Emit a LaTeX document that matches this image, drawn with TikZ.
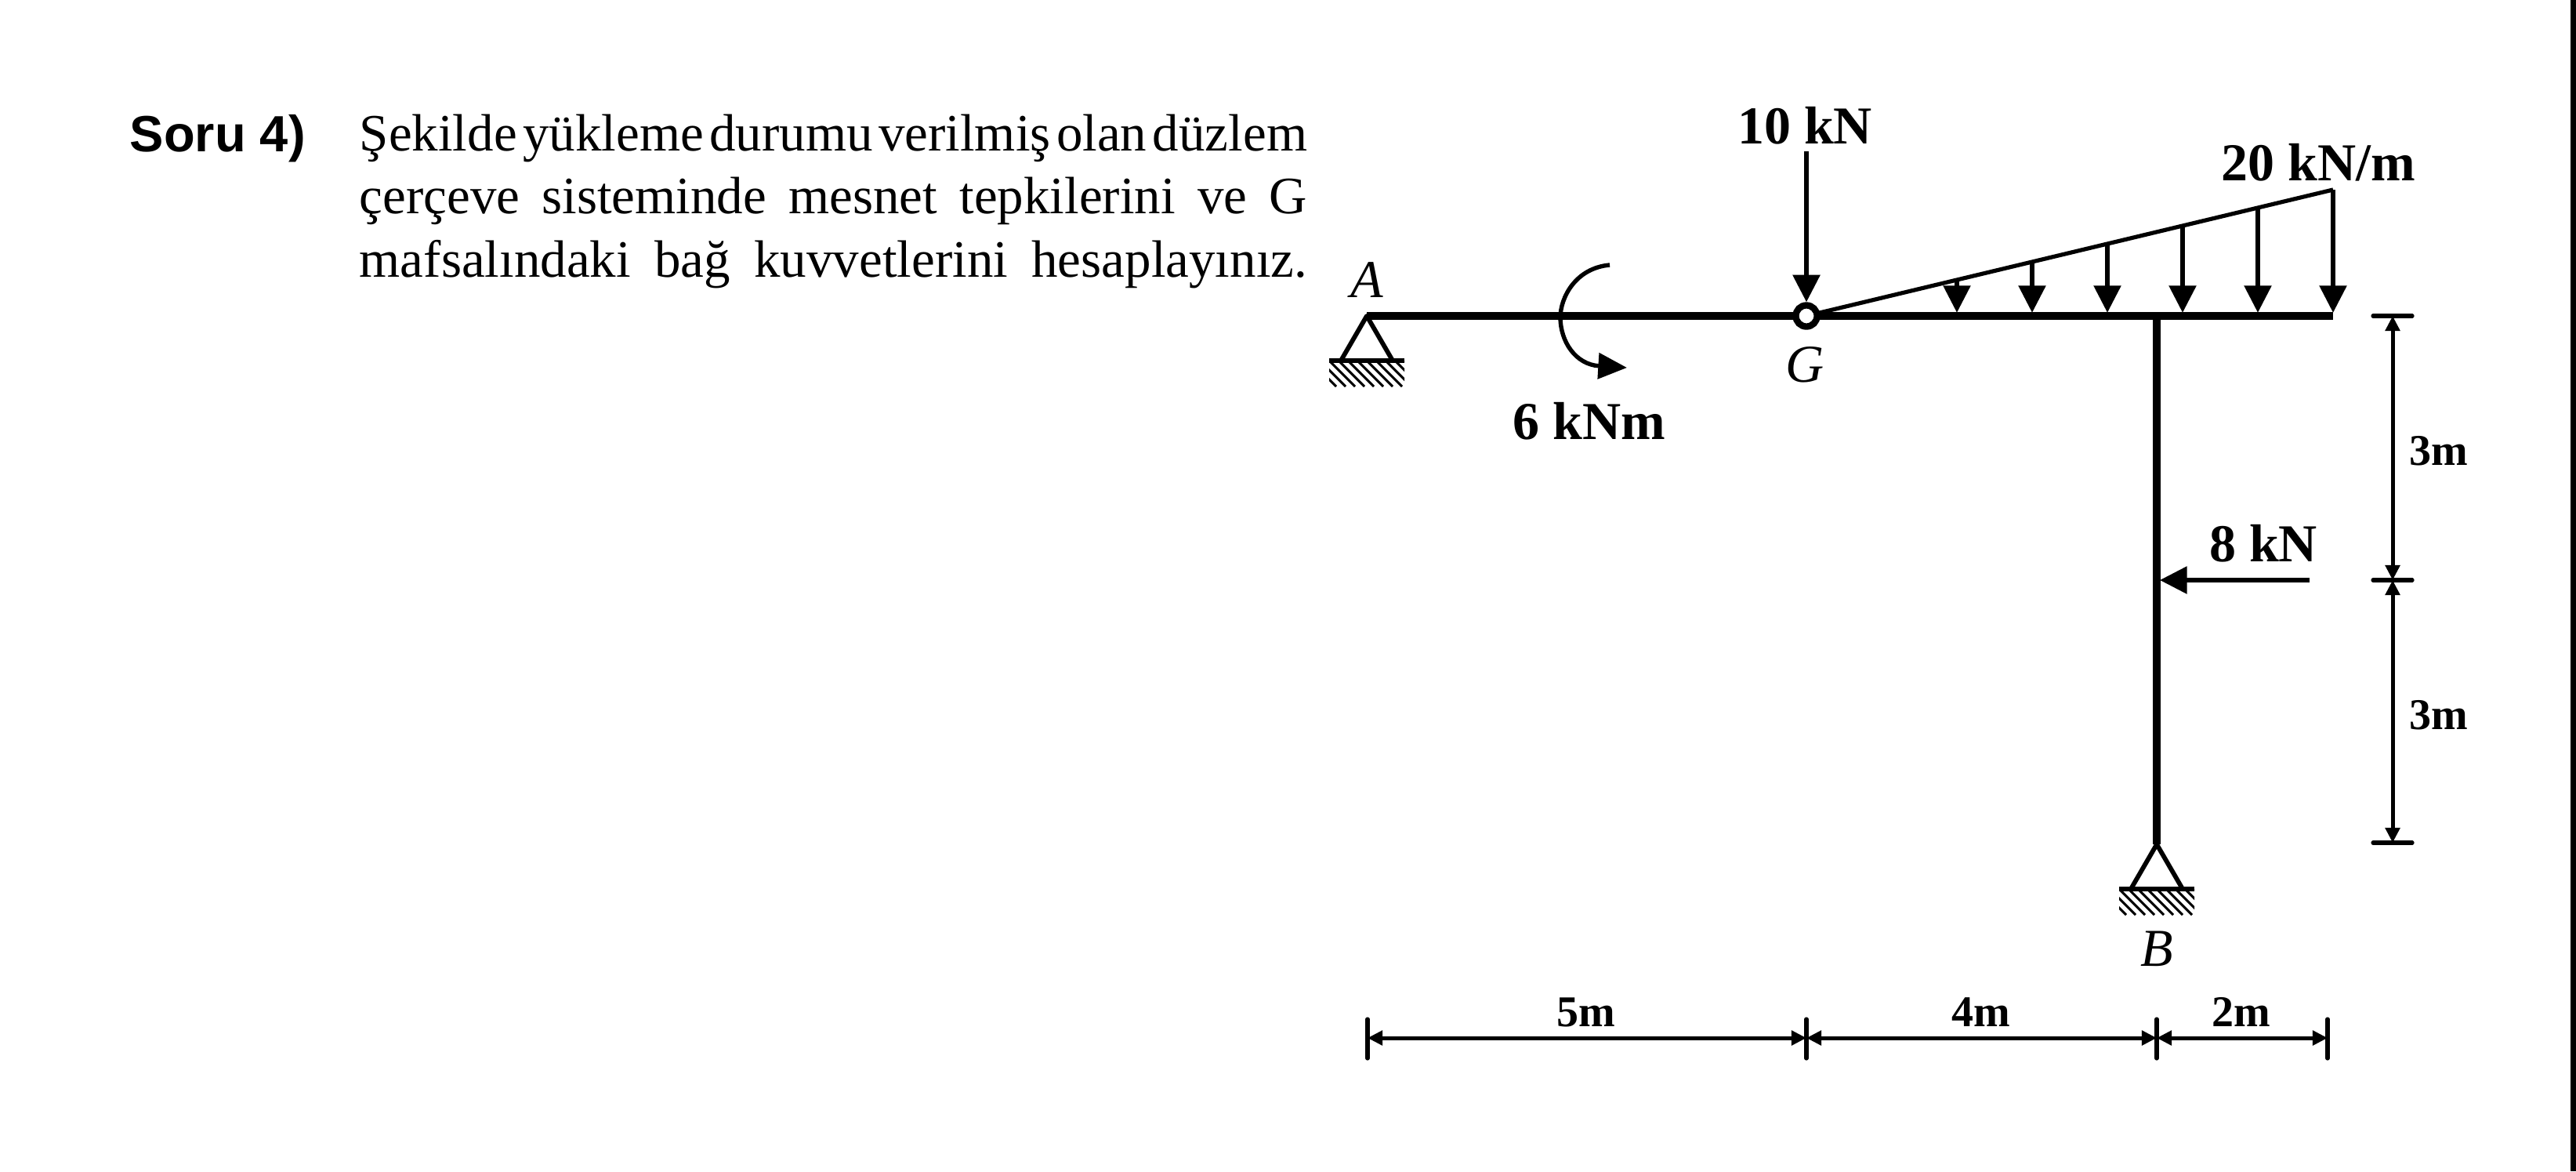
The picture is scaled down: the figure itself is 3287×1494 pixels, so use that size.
\documentclass[tikz,border=0pt]{standalone}
\usepackage{fontspec}
\setmainfont{Liberation Serif}
\newfontfamily\headfont{Liberation Sans}
\usetikzlibrary{arrows.meta,calc}

\newcommand{\fitline}[1]{\hbox to 290.2pt{\spaceskip=.25em plus 1fil minus .25em\relax #1}}

\tikzset{
  textline/.style = {anchor=base west, inner sep=0pt, font=\fontsize{16.08}{19}\selectfont},
  loadlabel/.style = {anchor=base, inner sep=0pt, font=\fontsize{16.32}{19}\selectfont\bfseries},
  dimlabel/.style = {anchor=base, inner sep=0pt, font=\fontsize{13.44}{16}\selectfont\bfseries},
  pointlabel/.style = {anchor=base, inner sep=0pt, font=\fontsize{16.32}{19}\selectfont\itshape},
  member/.style = {line width=2.2pt},
  force/.style = {line width=1.25pt, -{Triangle[length=8.3pt,width=8.2pt]}},
  dimline/.style = {line width=1.2pt, {Triangle[length=4.6pt,width=4.4pt]}-{Triangle[length=4.6pt,width=4.4pt]}},
  dimtick/.style = {line width=1.25pt, line cap=round},
  support/.pic = {
    \draw[line width=1.4pt, line join=round] (-33,57) -- (0,0) -- (33,57);
    \draw[line width=1.6pt] (-48,57) -- (48,57);
    \begin{scope}
      \clip (-48,57) rectangle (48,90);
      \foreach \hx in {-84,-72,...,48}
        \draw[line width=.75pt] (\hx,57) -- ++(33,33);
    \end{scope}
  }
}

\begin{document}
\begin{tikzpicture}[x=.24pt, y=-.24pt]
  \useasboundingbox (0,0) rectangle (3287,1494);
  \fill (3280,0) rectangle (3287,1494);

  % question text
  \node[anchor=base west, inner sep=0pt, font=\fontsize{15.6}{19}\selectfont\headfont\bfseries] (soru) at (165,193) {Soru 4)};
  \node[textline] (line1) at (458,192) {\fitline{Şekilde yükleme durumu verilmiş olan düzlem}};
  \node[textline] (line2) at (458,272) {\fitline{çerçeve sisteminde mesnet tepkilerini ve G}};
  \node[textline] (line3) at (458,353) {\fitline{mafsalındaki bağ kuvvetlerini hesaplayınız.}};

  % frame
  \coordinate (A) at (1744,403);
  \coordinate (C) at (2752,403);
  \coordinate (E) at (2977,403);
  \coordinate (B) at (2752,1077);
  \coordinate (P) at (2977,242);
  \draw[member] (A) -- (E);
  \draw[member] (C) -- (B);
  \pic at (A) {support};
  \pic at (B) {support};

  % triangular load
  \coordinate (G) at (2305,403);
  \draw[line width=1.25pt] (G) -- (P);
  \foreach \k in {2,...,7}
    \draw[force, shorten >=1pt] ($(G)!\k/7!(P)$) -- ($(G)!\k/7!(E)$);
  \node[circle, draw, fill=white, line width=2pt, minimum size=6.5pt, inner sep=0pt] (hinge) at (G) {};

  % forces
  \coordinate (F1) at (2305,193);
  \coordinate (F2) at (2947,740);
  \coordinate (F2end) at (2756,740);
  \draw[force] (F1) -- (hinge);
  \draw[force] (F2) -- (F2end);
  \draw[line width=1.3pt, -{Triangle[length=8.8pt,width=7.8pt]}] (2054,338)
    .. controls (2010,342) and (1991,380) .. (1991,405)
    .. controls (1991,435) and (2010,465) .. (2076,469);

  % labels
  \node[loadlabel] (f1lab) at (2303,183) {10 kN};
  \node[loadlabel] (qlab) at (2958,230) {20 kN/m};
  \node[loadlabel] (f2lab) at (2888,716) {8 kN};
  \node[loadlabel] (mlab) at (2028,560) {6 kNm};
  \node[pointlabel] (Alab) at (1744,379) {A};
  \node[pointlabel] (Glab) at (2303,487) {G};
  \node[pointlabel] (Blab) at (2752,1232) {B};

  % dimensions
  \foreach \n/\x in {d1/1745,d2/2305,d3/2752,d4/2970} {
    \coordinate (\n) at (\x,1324);
    \draw[dimtick] (\x,1300) -- (\x,1350);
  }
  \draw[dimline] (d1) -- (d2);
  \draw[dimline] (d2) -- (d3);
  \draw[dimline] (d3) -- (d4);
  \node[dimlabel] (l5) at (2024,1309) {5m};
  \node[dimlabel] (l4) at (2528,1309) {4m};
  \node[dimlabel] (l2) at (2860,1309) {2m};

  \foreach \n/\y in {v1/403,v2/740,v3/1075} {
    \coordinate (\n) at (3053,\y);
    \draw[dimtick] (3028,\y) -- (3078,\y);
  }
  \draw[dimline] (v1) -- (v2);
  \draw[dimline] (v2) -- (v3);
  \node[dimlabel] (h1) at (3112,593) {3m};
  \node[dimlabel] (h2) at (3112,930) {3m};
\end{tikzpicture}
\end{document}
